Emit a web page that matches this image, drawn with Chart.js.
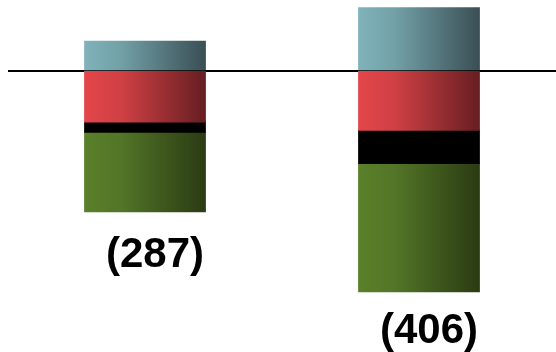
<!DOCTYPE html>
<html>
<head>
<meta charset="utf-8">
<style>
  html, body { margin: 0; padding: 0; background: #fff; }
  #wrap { width: 556px; height: 352px; }
</style>
<script src="https://cdn.jsdelivr.net/npm/chart.js@4/dist/chart.umd.min.js"></script>
</head>
<body>
<div id="wrap"><canvas id="myChart"></canvas></div>
<script>
const categories = ['A', 'B'];
const teal = [75, 161];
const red = [-132, -153];
const black = [-26, -85];
const green = [-204, -329];

// left-to-right shading for each segment colour
const shades = {
    teal: ['#80b2ba', '#72a0a7', '#3a4f55'],
    red: ['#e3464a', '#cf4044', '#671e22'],
    green: ['#5a802a', '#527527', '#2b3b13']
};

const BAR_PCT = 0.44;

const shaded = (name) => (context) => {
    const chart = context.chart;
    const x = chart.scales.x;
    if (!chart.chartArea || !x || context.dataIndex === undefined) return shades[name][0];
    const cx = x.getPixelForValue(context.dataIndex);
    const half = (x.width / categories.length) * BAR_PCT / 2;
    const g = chart.ctx.createLinearGradient(cx - half, 0, cx + half, 0);
    const c = shades[name];
    g.addColorStop(0, c[0]);
    g.addColorStop(0.3, c[1]);
    g.addColorStop(1, c[2]);
    return g;
};

const series = [teal, red, black, green];
const netOf = (i) => series.reduce((s, arr) => s + arr[i], 0);

// net total under each bar, negatives shown in brackets
const netLabels = {
    id: 'netLabels',
    afterDatasetsDraw(chart) {
        const { ctx, scales } = chart;
        ctx.save();
        ctx.font = 'bold 42px "Liberation Sans", Arial, sans-serif';
        ctx.fillStyle = '#000';
        ctx.textAlign = 'center';
        ctx.textBaseline = 'middle';
        categories.forEach((c, i) => {
            const net = netOf(i);
            const txt = net < 0 ? '(' + Math.abs(net) + ')' : String(net);
            const x = scales.x.getPixelForValue(i) + 10;
            const y = scales.y.getPixelForValue(net * 1.64) + 1;
            ctx.fillText(txt, x, y);
        });
        ctx.restore();
    }
};

const ctx = document.getElementById('myChart').getContext('2d');
const myChart = new Chart(ctx, {
    type: 'bar',
    data: {
        labels: categories,
        datasets: [
            { data: teal, backgroundColor: shaded('teal') },
            { data: red, backgroundColor: shaded('red') },
            { data: black, backgroundColor: '#000000' },
            { data: green, backgroundColor: shaded('green') }
        ]
    },
    options: {
        responsive: true,
        maintainAspectRatio: false,
        animation: false,
        layout: { padding: { left: 8, right: 0, top: 0, bottom: 0 } },
        datasets: {
            bar: { categoryPercentage: 1, barPercentage: BAR_PCT, borderWidth: 0, inflateAmount: 0.6 }
        },
        plugins: {
            legend: { display: false },
            tooltip: { enabled: false }
        },
        scales: {
            x: { stacked: true, display: false },
            y: {
                stacked: true,
                min: -722,
                max: 181,
                z: 1,
                afterBuildTicks: (axis) => { axis.ticks = [{ value: 0 }]; },
                ticks: { display: false },
                border: { display: false },
                grid: {
                    drawTicks: false,
                    lineWidth: 2,
                    color: (c) => c.tick && c.tick.value === 0 ? '#000000' : 'rgba(0,0,0,0)'
                }
            }
        }
    },
    plugins: [netLabels]
});
</script>
</body>
</html>
